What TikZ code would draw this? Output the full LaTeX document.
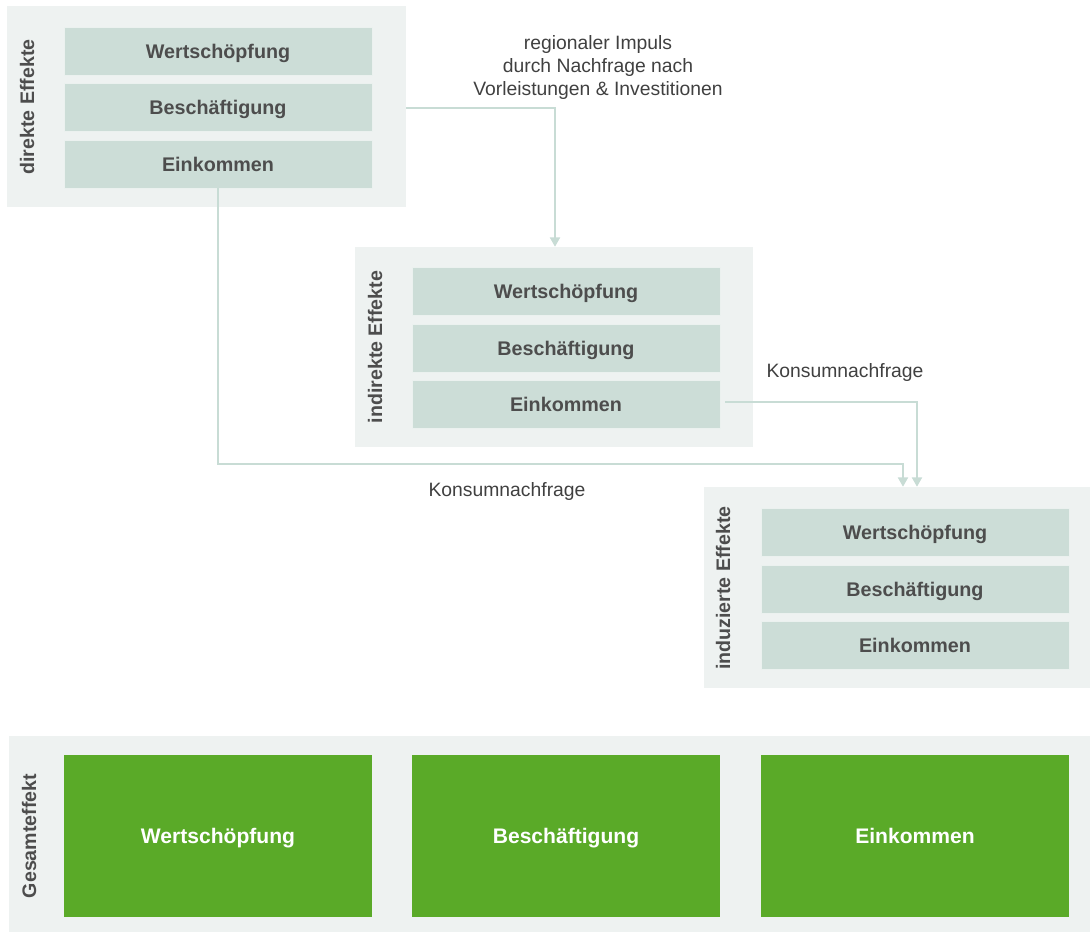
\documentclass[tikz,border=0pt]{standalone}
\usepackage{fontspec}
\setmainfont{Liberation Sans}
\usetikzlibrary{arrows.meta,calc}
\definecolor{panelbg}{HTML}{EEF2F1}
\definecolor{boxbg}{HTML}{CCDDD7}
\definecolor{linec}{HTML}{C8DCD5}
\definecolor{txt}{HTML}{4D4D4D}
\definecolor{lbl}{HTML}{404040}
\definecolor{grn}{HTML}{5AAA28}
\tikzset{
  panel/.style={rectangle, fill=panelbg, inner sep=0pt},
  item/.style={rectangle, fill=boxbg, draw=white!60!boxbg, line width=0.5pt, inner sep=0pt,
    minimum width=231pt, minimum height=36pt, text=txt, text height=10.6pt, text depth=0pt,
    font=\fontsize{14.8}{17}\selectfont\bfseries},
  total/.style={rectangle, fill=grn, inner sep=0pt, minimum width=231pt, minimum height=121.5pt,
    text=white, text height=11.3pt, text depth=0pt, font=\fontsize{15.8}{18}\selectfont\bfseries},
  side/.style={rotate=90, text=txt, inner sep=0pt, font=\fontsize{14.7}{17}\selectfont\bfseries},
  note/.style={text=lbl, inner sep=0pt, align=center, font=\fontsize{14.5}{17.25}\selectfont},
  arr/.style={draw=linec, line width=1.5pt, -{Triangle[width=7.5pt,length=7pt]}}
}
\begin{document}
\begin{tikzpicture}[x=0.75pt,y=-0.75pt]
\useasboundingbox (0,0) rectangle (1090,933);
% panels
\node[panel, minimum width=299.25pt, minimum height=150.75pt] (p1) at (206.5,106.5) {};
\node[panel, minimum width=298.5pt, minimum height=150pt] (p2) at (554,347) {};
\node[panel, minimum width=289.5pt, minimum height=150.75pt] (p3) at (897,587.5) {};
\node[panel, minimum width=810.75pt, minimum height=147pt] (p4) at (549.5,834) {};
% direct
\node[item] (w1) at (218,51) {Wertschöpfung};
\node[item] (b1) at (218,107.5) {Beschäftigung};
\node[item] (e1) at (218,164) {Einkommen};
\node[side] (s1) at (27,107) {direkte Effekte};
% indirect
\node[item] (w2) at (566,291.5) {Wertschöpfung};
\node[item] (b2) at (566,348) {Beschäftigung};
\node[item] (e2) at (566,404) {Einkommen};
\node[side] (s2) at (375,347) {indirekte Effekte};
% induced
\node[item] (w3) at (915,532.5) {Wertschöpfung};
\node[item] (b3) at (915,589) {Beschäftigung};
\node[item] (e3) at (915,645.5) {Einkommen};
\node[side] (s3) at (723,588) {induzierte Effekte};
% total
\node[total] (w4) at (218,836) {Wertschöpfung};
\node[total] (b4) at (566,836) {Beschäftigung};
\node[total] (e4) at (915,836) {Einkommen};
\node[side] (s4) at (29,836) {Gesamteffekt};
% labels
\node[note] (n1) at (598,67) {regionaler Impuls\\durch Nachfrage nach\\Vorleistungen \& Investitionen};
\node[note] (n2) at (845,372) {Konsumnachfrage};
\node[note] (n3) at (507,491) {Konsumnachfrage};
% connectors
\coordinate (k1) at (903,464);
\draw[arr] (p1.east |- b1.east) -| ([xshift=0.75pt]p2.north);
\draw[arr] (e1.south) |- (k1) -- (k1 |- p3.north);
\draw[arr] ([xshift=3.75pt,yshift=1.5pt]e2.east) -| ([xshift=15pt]p3.north);
\end{tikzpicture}
\end{document}
